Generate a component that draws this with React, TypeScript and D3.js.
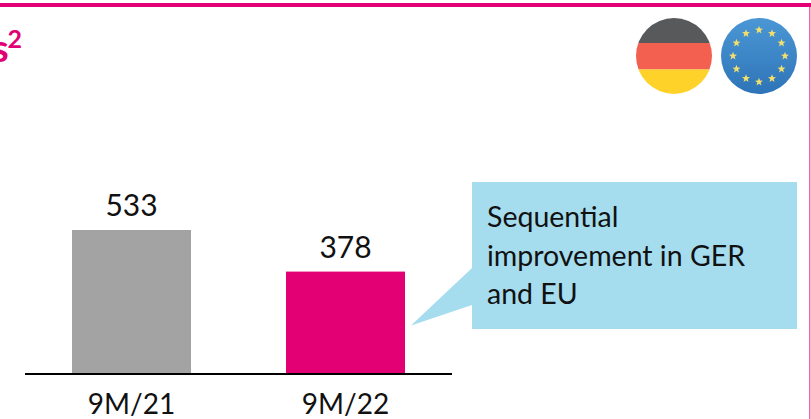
import * as d3 from "d3";

const periods = ["9M/21", "9M/22"];
const values = [533, 378];
const barColors = ["#a3a3a3", "#e20074"];
const calloutLines = ["Sequential", "improvement in GER", "and EU"];
const starSlots = d3.range(12);

const width = 811;
const height = 419;
const font = "Lato, sans-serif";

const x = d3.scaleBand<string>().domain(periods).range([72, 405]).paddingInner(0.444).paddingOuter(0);
// 533 is 143px tall in the picture
const y = d3.scaleLinear().domain([0, 533]).range([373, 230]);

const euX = 759;
const flagY = 56;
const flagR = 38;

const starPath = (cx: number, cy: number, r: number) => {
  const pts = d3.range(10).map((i) => {
    const a = (i * Math.PI) / 5 - Math.PI / 2;
    const rr = i % 2 === 0 ? r : r * 0.42;
    return [cx + rr * Math.cos(a), cy + rr * Math.sin(a)] as [number, number];
  });
  return d3.line()(pts) + "Z";
};

export default function App() {
  const star = d3.scaleLinear().domain([0, 12]).range([0, 2 * Math.PI]);
  const callout = d3.path();
  callout.moveTo(472, 182);
  callout.lineTo(797, 182);
  callout.lineTo(797, 329);
  callout.lineTo(472, 329);
  callout.lineTo(472, 305);
  callout.lineTo(411, 325.5);
  callout.lineTo(472, 268);
  callout.closePath();

  return (
    <svg
      width={width}
      height={height}
      style={{ position: "fixed", left: 0, top: 0, background: "#fff", fontFamily: font }}
    >
      <defs>
        <clipPath id="de">
          <circle cx={674} cy={flagY} r={flagR} />
        </clipPath>
        <linearGradient id="eu" x1="0" y1="0" x2="0" y2="1">
          <stop offset="0" stopColor="#4b97d5" />
          <stop offset="1" stopColor="#2e74b8" />
        </linearGradient>
      </defs>

      {/* frame */}
      <rect x={0} y={3} width={811} height={4} fill="#e20074" />
      <rect x={809} y={7} width={1.5} height={412} fill="#ee6aaa" />

      {/* cut off title */}
      <text x={-8} y={62} fontSize={38} fontWeight={700} fill="#e20074">
        s
      </text>
      <text x={7.5} y={48} fontSize={25} fontWeight={700} fill="#e20074">
        2
      </text>

      {/* flags */}
      <g clipPath="url(#de)">
        <rect x={636} y={18} width={76} height={25} fill="#58595b" />
        <rect x={636} y={43} width={76} height={26.5} fill="#f4604f" />
        <rect x={636} y={69.5} width={76} height={25} fill="#ffd229" />
      </g>
      <circle cx={euX} cy={flagY} r={flagR} fill="url(#eu)" />
      {starSlots.map((i) => (
        <path
          key={i}
          d={starPath(euX + 26 * Math.sin(star(i)), flagY - 26 * Math.cos(star(i)), 4.2)}
          fill="#f3df6c"
        />
      ))}

      {/* bars */}
      {periods.map((p, i) => (
        <g key={p}>
          <rect
            x={x(p)}
            y={y(values[i])}
            width={x.bandwidth()}
            height={y(0) - y(values[i])}
            fill={barColors[i]}
          />
          <text
            x={x(p)! + x.bandwidth() / 2}
            y={y(values[i]) - 14}
            textAnchor="middle"
            fontSize={30}
            fill="#111"
          >
            {values[i]}
          </text>
          <text x={x(p)! + x.bandwidth() / 2} y={414} textAnchor="middle" fontSize={28} fill="#111">
            {p}
          </text>
        </g>
      ))}
      <line x1={25} x2={452} y1={374} y2={374} stroke="#000" strokeWidth={2} />

      {/* callout */}
      <path d={callout.toString()} fill="#a5ddef" />
      {calloutLines.map((line, i) => (
        <text key={line} x={487} y={227 + i * 38.5} fontSize={28.5} fill="#111">
          {line}
        </text>
      ))}
    </svg>
  );
}
